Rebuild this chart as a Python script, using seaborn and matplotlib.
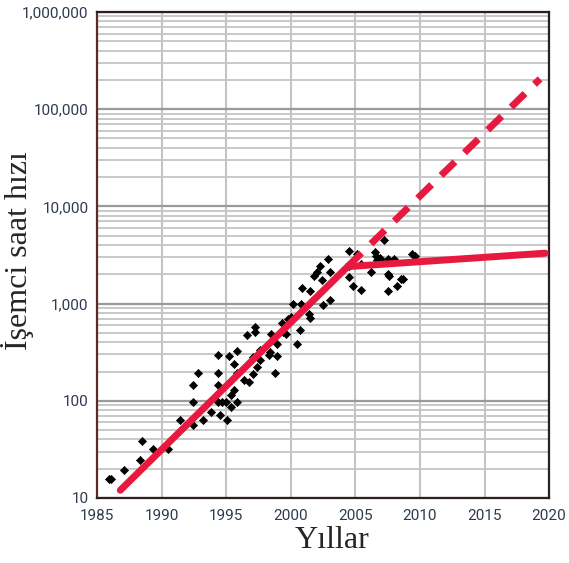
import seaborn as sns
import matplotlib.pyplot as plt
from matplotlib.ticker import LogLocator, NullFormatter

# processor clock speed (MHz) by year
years = [1985.9, 1986.1, 1987.1, 1988.3, 1988.5, 1989.3, 1990.5, 1991.4, 1992.4, 1992.4,
         1992.4, 1992.8, 1993.2, 1993.8, 1994.4, 1994.4, 1994.4, 1994.4, 1994.5, 1994.7,
         1995.0, 1995.1, 1995.2, 1995.4, 1995.4, 1995.6, 1995.6, 1995.8, 1995.8, 1995.8,
         1996.4, 1996.8, 1996.6, 1997.2, 1997.2, 1997.1, 1997.1, 1997.4, 1997.6, 1997.6,
         1998.3, 1998.4, 1998.5, 1998.9, 1998.8, 1998.9, 1999.3, 1999.4, 1999.6, 1999.8,
         2000.0, 2000.2, 2000.5, 2000.7, 2000.8, 2000.9, 2001.4, 2001.5, 2001.5, 2001.8,
         2002.0, 2002.3, 2002.4, 2002.85, 2003.0, 2002.5, 2003.0, 2004.5, 2004.5, 2004.8,
         2005.1, 2005.4, 2005.4, 2004.5, 2006.2, 2006.5, 2006.7, 2006.9, 2007.1, 2007.2,
         2007.5, 2007.6, 2007.5, 2008.2, 2008.5, 2008.7, 2009.4, 2009.65, 2007.5, 2008.0,
         2006.6]
mhz = [15.6, 15.6, 19.4, 24.5, 39, 32, 32, 64, 57, 98,
       145, 195, 64, 77, 294, 195, 145, 98, 71, 98,
       97, 64, 290, 86, 114, 128, 240, 97, 195, 324,
       162, 155, 480, 570, 514, 280, 190, 222, 260, 335,
       294, 317, 490, 290, 195, 386, 630, 508, 490, 700,
       725, 1000, 386, 538, 1000, 1440, 785, 710, 1340, 1900,
       2110, 2450, 1750, 2880, 2090, 970, 1100, 3500, 1860, 1530,
       3240, 2560, 1380, 2450, 2100, 3360, 2800, 2950, 2650, 4480,
       2000, 1940, 1340, 1530, 1800, 1800, 3240, 3100, 2880, 2880,
       3100]

trend_years = [1986.8, 2004.4, 2019.7]
trend_mhz = [12, 2400, 3300]
proj_years = [2004.4, 2019.3]
proj_mhz = [2400, 205000]

x_ticks = [1985, 1990, 1995, 2000, 2005, 2010, 2015, 2020]
y_ticks = [10, 100, 1000, 10000, 100000, 1000000]
y_labels = ["10", "100", "1,000", "10,000", "100,000", "1,000,000"]

sns.set_style("white")
red = "#e8193f"
tick_col = "#2e3a4f"

fig = plt.figure(figsize=(5.69, 5.63), dpi=100)
ax = fig.add_axes([0.1705, 0.1155, 0.7945, 0.8632])

ax.set_yscale("log")
ax.set_xlim(1985, 2020)
ax.set_ylim(10, 1000000)

# grid
ax.yaxis.set_minor_locator(LogLocator(base=10, subs=range(2, 10)))
ax.yaxis.set_minor_formatter(NullFormatter())
ax.grid(True, which="minor", axis="y", color="#c4c4c4", lw=1.3)
ax.grid(True, which="major", axis="y", color="#9a9a9a", lw=1.6)
ax.grid(True, which="major", axis="x", color="#c4c4c4", lw=1.5)
ax.set_axisbelow(True)

sns.scatterplot(x=years, y=mhz, ax=ax, marker="D", s=17, color="black",
                edgecolor="black", linewidth=0.5, zorder=3)
sns.lineplot(x=proj_years, y=proj_mhz, ax=ax, color=red, lw=5, zorder=4,
             dashes=False, linestyle=(0, (2.8, 1.9)), estimator=None, sort=False)
sns.lineplot(x=trend_years, y=trend_mhz, ax=ax, color=red, lw=5, zorder=5,
             estimator=None, sort=False, solid_joinstyle="miter")

ax.set_xticks(x_ticks)
ax.set_xticklabels([str(t) for t in x_ticks])
ax.set_yticks(y_ticks)
ax.set_yticklabels(y_labels)

for s in ["left", "bottom", "right", "top"]:
    ax.spines[s].set_color("#2b1f1f")
    ax.spines[s].set_linewidth(1.6)
ax.spines["left"].set_color("#5a2b2b")

ax.tick_params(axis="y", which="major", direction="out", length=4, width=1.2,
               color="#2b1f1f", labelsize=11, labelcolor=tick_col, pad=2)
ax.tick_params(axis="y", which="minor", length=0)
ax.tick_params(axis="x", which="major", length=0, labelsize=11,
               labelcolor=tick_col, pad=8)
for lab in ax.get_xticklabels() + ax.get_yticklabels():
    lab.set_family("Roboto")

ax.set_xlabel("Yıllar", family="Liberation Serif", fontsize=23)
ax.xaxis.set_label_coords(0.52, -0.058)
ax.set_ylabel("İşemci saat hızı", family="Liberation Serif", fontsize=23)
ax.yaxis.set_label_coords(-0.14, 0.51)

plt.savefig("out.png", dpi=100)
